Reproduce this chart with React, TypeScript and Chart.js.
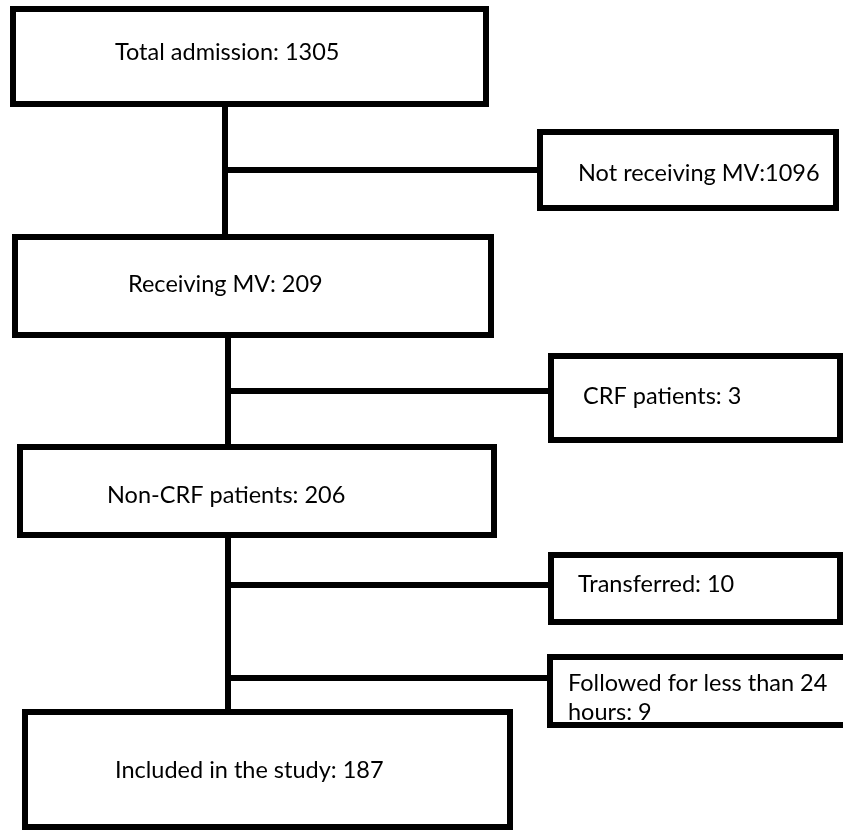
import React, { useEffect, useRef } from "react";
import { Chart, registerables } from "chart.js";

Chart.register(...registerables);

// Flow stages (text as printed in the figure)
const stageLabels: string[][] = [
  ["Total admission: 1305"],
  ["Not receiving MV:1096"],
  ["Receiving MV: 209"],
  ["CRF patients: 3"],
  ["Non-CRF patients: 206"],
  ["Transferred: 10"],
  ["Followed for less than 24", "hours: 9"],
  ["Included in the study: 187"],
];

// Box outlines in layout units: [left, top, right, bottom]
const boxRects: number[][] = [
  [13, 9, 486, 104],
  [540, 132, 836, 208],
  [15, 237, 491, 335],
  [551, 356, 840, 440],
  [20, 447, 494, 535],
  [551, 555, 840, 622],
  [550, 657, 870, 725],
  [25, 712, 510, 827],
];

// Text anchors in layout units: [left x, first-line centre y]
const textAnchors: number[][] = [
  [115, 52],
  [578, 173],
  [128, 284],
  [583, 396],
  [107, 495],
  [578, 584],
  [568, 683],
  [115, 770],
];

// Connector segments: [x1, y1, x2, y2]
const connectors: number[][] = [
  [225, 107, 225, 237],
  [225, 170, 540, 170],
  [228, 335, 228, 447],
  [228, 391, 551, 391],
  [228, 535, 228, 712],
  [228, 585, 551, 585],
  [228, 678, 550, 678],
];

const X_MAX = 843;
const Y_MAX = 830;
const LINE_SPACING = 29;

const textPlugin = {
  id: "flowText",
  afterDatasetsDraw(chart: any) {
    const { ctx, scales } = chart;
    const xs = scales.x;
    const ys = scales.y;
    ctx.save();
    ctx.fillStyle = "#000";
    ctx.font = "23.5px Lato, 'Liberation Sans', sans-serif";
    ctx.textAlign = "left";
    ctx.textBaseline = "middle";
    stageLabels.forEach((lines, i) => {
      const [ax, ay] = textAnchors[i];
      lines.forEach((line, j) => {
        ctx.fillText(line, xs.getPixelForValue(ax), ys.getPixelForValue(ay + j * LINE_SPACING));
      });
    });
    ctx.restore();
  },
};

export default function App() {
  const ref = useRef<HTMLCanvasElement | null>(null);
  useEffect(() => {
    if (!ref.current) return;
    const datasets: any[] = [];
    boxRects.forEach(([l, t, r, b]) => {
      datasets.push({
        data: [
          { x: l, y: t },
          { x: r, y: t },
          { x: r, y: b },
          { x: l, y: b },
          { x: l, y: t },
        ],
        borderColor: "#000",
        borderWidth: 6,
        borderCapStyle: "square",
        borderJoinStyle: "miter",
        pointRadius: 0,
        showLine: true,
        fill: false,
        tension: 0,
      });
    });
    connectors.forEach(([x1, y1, x2, y2]) => {
      datasets.push({
        data: [
          { x: x1, y: y1 },
          { x: x2, y: y2 },
        ],
        borderColor: "#000",
        borderWidth: 6,
        borderCapStyle: "butt",
        pointRadius: 0,
        showLine: true,
        fill: false,
      });
    });
    const chart = new Chart(ref.current, {
      type: "scatter",
      data: { datasets },
      options: {
        animation: false,
        responsive: false,
        maintainAspectRatio: false,
        layout: { padding: 0 },
        plugins: { legend: { display: false }, tooltip: { enabled: false } },
        scales: {
          x: { type: "linear", min: 0, max: X_MAX, display: false },
          y: { type: "linear", min: 0, max: Y_MAX, reverse: true, display: false },
        },
      },
      plugins: [textPlugin],
    });
    return () => chart.destroy();
  }, []);
  return (
    <div style={{ position: "fixed", left: 0, top: 0, width: X_MAX, height: Y_MAX, background: "#fff" }}>
      <canvas ref={ref} width={X_MAX} height={Y_MAX} />
    </div>
  );
}
